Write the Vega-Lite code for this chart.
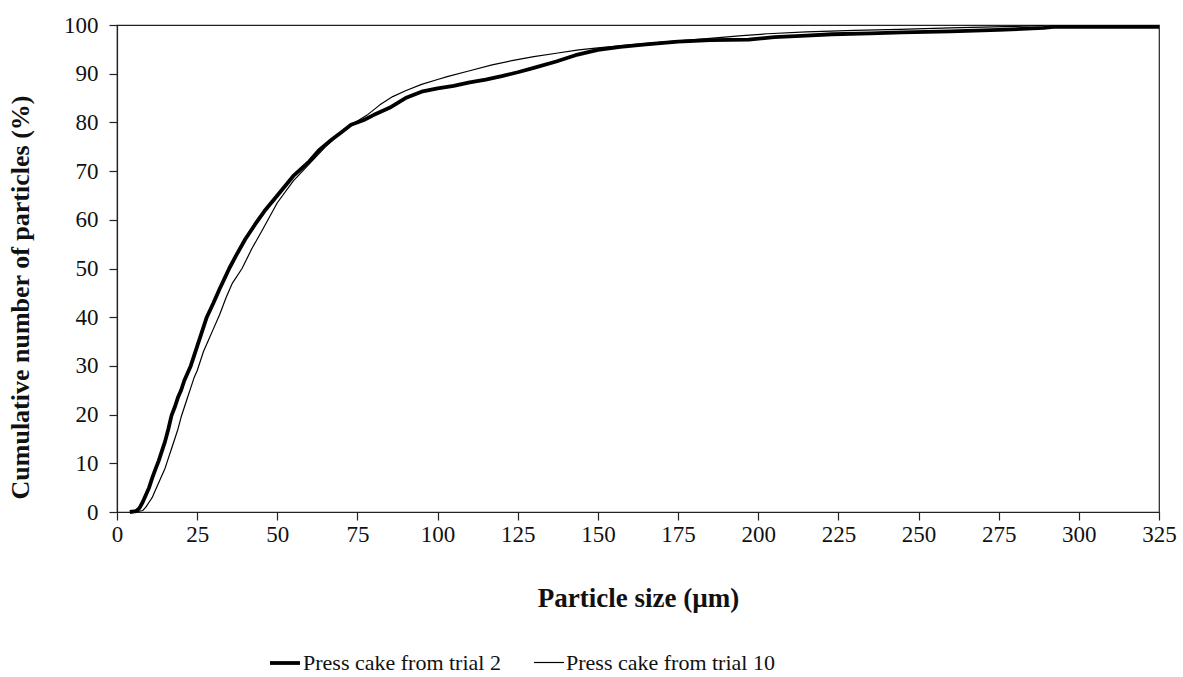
{
  "$schema": "https://vega.github.io/schema/vega-lite/v6.json",
  "autosize": "none",
  "width": 1042,
  "height": 487,
  "padding": {"left": 117, "top": 25, "right": 24, "bottom": 165},
  "background": "white",
  "config": {
    "font": "Liberation Serif",
    "view": {"stroke": "#222", "strokeWidth": 1.2}
  },
  "datasets": {
    "curves": [
      {"series": "Press cake from trial 2", "size": 4, "cum": 0},
      {"series": "Press cake from trial 2", "size": 6, "cum": 0.2},
      {"series": "Press cake from trial 2", "size": 7, "cum": 0.8},
      {"series": "Press cake from trial 2", "size": 8, "cum": 2},
      {"series": "Press cake from trial 2", "size": 9, "cum": 3.5},
      {"series": "Press cake from trial 2", "size": 10, "cum": 5},
      {"series": "Press cake from trial 2", "size": 11, "cum": 7},
      {"series": "Press cake from trial 2", "size": 12, "cum": 8.8},
      {"series": "Press cake from trial 2", "size": 13, "cum": 10.5},
      {"series": "Press cake from trial 2", "size": 14, "cum": 12.5},
      {"series": "Press cake from trial 2", "size": 15, "cum": 14.5},
      {"series": "Press cake from trial 2", "size": 16, "cum": 17},
      {"series": "Press cake from trial 2", "size": 17, "cum": 19.8},
      {"series": "Press cake from trial 2", "size": 18, "cum": 21.5},
      {"series": "Press cake from trial 2", "size": 19, "cum": 23.5},
      {"series": "Press cake from trial 2", "size": 20, "cum": 25},
      {"series": "Press cake from trial 2", "size": 21, "cum": 27},
      {"series": "Press cake from trial 2", "size": 22, "cum": 28.5},
      {"series": "Press cake from trial 2", "size": 23, "cum": 30},
      {"series": "Press cake from trial 2", "size": 24, "cum": 32},
      {"series": "Press cake from trial 2", "size": 25, "cum": 34},
      {"series": "Press cake from trial 2", "size": 26, "cum": 36},
      {"series": "Press cake from trial 2", "size": 27, "cum": 38},
      {"series": "Press cake from trial 2", "size": 28, "cum": 40},
      {"series": "Press cake from trial 2", "size": 30, "cum": 42.8},
      {"series": "Press cake from trial 2", "size": 32, "cum": 45.8},
      {"series": "Press cake from trial 2", "size": 34, "cum": 48.6},
      {"series": "Press cake from trial 2", "size": 35, "cum": 50},
      {"series": "Press cake from trial 2", "size": 37, "cum": 52.5},
      {"series": "Press cake from trial 2", "size": 40, "cum": 56},
      {"series": "Press cake from trial 2", "size": 43, "cum": 59},
      {"series": "Press cake from trial 2", "size": 46, "cum": 61.8},
      {"series": "Press cake from trial 2", "size": 50, "cum": 65},
      {"series": "Press cake from trial 2", "size": 55, "cum": 69},
      {"series": "Press cake from trial 2", "size": 60, "cum": 72},
      {"series": "Press cake from trial 2", "size": 63, "cum": 74.3},
      {"series": "Press cake from trial 2", "size": 67, "cum": 76.5},
      {"series": "Press cake from trial 2", "size": 70, "cum": 78},
      {"series": "Press cake from trial 2", "size": 73, "cum": 79.5},
      {"series": "Press cake from trial 2", "size": 77, "cum": 80.5},
      {"series": "Press cake from trial 2", "size": 80, "cum": 81.5},
      {"series": "Press cake from trial 2", "size": 85, "cum": 83},
      {"series": "Press cake from trial 2", "size": 90, "cum": 85},
      {"series": "Press cake from trial 2", "size": 95, "cum": 86.3},
      {"series": "Press cake from trial 2", "size": 100, "cum": 87},
      {"series": "Press cake from trial 2", "size": 105, "cum": 87.5},
      {"series": "Press cake from trial 2", "size": 110, "cum": 88.2},
      {"series": "Press cake from trial 2", "size": 115, "cum": 88.8},
      {"series": "Press cake from trial 2", "size": 120, "cum": 89.5},
      {"series": "Press cake from trial 2", "size": 125, "cum": 90.3},
      {"series": "Press cake from trial 2", "size": 130, "cum": 91.2},
      {"series": "Press cake from trial 2", "size": 137, "cum": 92.5},
      {"series": "Press cake from trial 2", "size": 143, "cum": 93.8},
      {"series": "Press cake from trial 2", "size": 150, "cum": 94.9},
      {"series": "Press cake from trial 2", "size": 157, "cum": 95.5},
      {"series": "Press cake from trial 2", "size": 165, "cum": 96},
      {"series": "Press cake from trial 2", "size": 175, "cum": 96.6},
      {"series": "Press cake from trial 2", "size": 185, "cum": 96.9},
      {"series": "Press cake from trial 2", "size": 197, "cum": 97},
      {"series": "Press cake from trial 2", "size": 205, "cum": 97.5},
      {"series": "Press cake from trial 2", "size": 215, "cum": 97.8},
      {"series": "Press cake from trial 2", "size": 223, "cum": 98.1},
      {"series": "Press cake from trial 2", "size": 235, "cum": 98.3},
      {"series": "Press cake from trial 2", "size": 245, "cum": 98.5},
      {"series": "Press cake from trial 2", "size": 260, "cum": 98.7},
      {"series": "Press cake from trial 2", "size": 275, "cum": 99},
      {"series": "Press cake from trial 2", "size": 289, "cum": 99.4},
      {"series": "Press cake from trial 2", "size": 292, "cum": 99.6},
      {"series": "Press cake from trial 2", "size": 325, "cum": 99.6},
      {"series": "Press cake from trial 10", "size": 6, "cum": 0},
      {"series": "Press cake from trial 10", "size": 8, "cum": 0.3},
      {"series": "Press cake from trial 10", "size": 9, "cum": 1},
      {"series": "Press cake from trial 10", "size": 10, "cum": 2},
      {"series": "Press cake from trial 10", "size": 11, "cum": 3},
      {"series": "Press cake from trial 10", "size": 12, "cum": 4.5},
      {"series": "Press cake from trial 10", "size": 13, "cum": 6},
      {"series": "Press cake from trial 10", "size": 14, "cum": 7.5},
      {"series": "Press cake from trial 10", "size": 15, "cum": 9},
      {"series": "Press cake from trial 10", "size": 16, "cum": 11},
      {"series": "Press cake from trial 10", "size": 17, "cum": 13},
      {"series": "Press cake from trial 10", "size": 18, "cum": 15},
      {"series": "Press cake from trial 10", "size": 19, "cum": 17},
      {"series": "Press cake from trial 10", "size": 20, "cum": 19.5},
      {"series": "Press cake from trial 10", "size": 21, "cum": 21.5},
      {"series": "Press cake from trial 10", "size": 22, "cum": 23.5},
      {"series": "Press cake from trial 10", "size": 23, "cum": 25.5},
      {"series": "Press cake from trial 10", "size": 24, "cum": 27.5},
      {"series": "Press cake from trial 10", "size": 25, "cum": 29},
      {"series": "Press cake from trial 10", "size": 26, "cum": 31},
      {"series": "Press cake from trial 10", "size": 27, "cum": 33},
      {"series": "Press cake from trial 10", "size": 28, "cum": 34.5},
      {"series": "Press cake from trial 10", "size": 30, "cum": 37.5},
      {"series": "Press cake from trial 10", "size": 32, "cum": 40.5},
      {"series": "Press cake from trial 10", "size": 34, "cum": 44},
      {"series": "Press cake from trial 10", "size": 36, "cum": 47},
      {"series": "Press cake from trial 10", "size": 39, "cum": 50},
      {"series": "Press cake from trial 10", "size": 42, "cum": 54},
      {"series": "Press cake from trial 10", "size": 45, "cum": 57.5},
      {"series": "Press cake from trial 10", "size": 50, "cum": 63.5},
      {"series": "Press cake from trial 10", "size": 55, "cum": 68},
      {"series": "Press cake from trial 10", "size": 60, "cum": 71.5},
      {"series": "Press cake from trial 10", "size": 65, "cum": 75},
      {"series": "Press cake from trial 10", "size": 70, "cum": 78},
      {"series": "Press cake from trial 10", "size": 75, "cum": 80.3},
      {"series": "Press cake from trial 10", "size": 78, "cum": 81.5},
      {"series": "Press cake from trial 10", "size": 82, "cum": 83.6},
      {"series": "Press cake from trial 10", "size": 86, "cum": 85.3},
      {"series": "Press cake from trial 10", "size": 90, "cum": 86.5},
      {"series": "Press cake from trial 10", "size": 95, "cum": 87.8},
      {"series": "Press cake from trial 10", "size": 100, "cum": 88.8},
      {"series": "Press cake from trial 10", "size": 103, "cum": 89.4},
      {"series": "Press cake from trial 10", "size": 110, "cum": 90.6},
      {"series": "Press cake from trial 10", "size": 117, "cum": 91.8},
      {"series": "Press cake from trial 10", "size": 124, "cum": 92.8},
      {"series": "Press cake from trial 10", "size": 130, "cum": 93.5},
      {"series": "Press cake from trial 10", "size": 137, "cum": 94.2},
      {"series": "Press cake from trial 10", "size": 144, "cum": 94.9},
      {"series": "Press cake from trial 10", "size": 150, "cum": 95.3},
      {"series": "Press cake from trial 10", "size": 160, "cum": 95.9},
      {"series": "Press cake from trial 10", "size": 170, "cum": 96.5},
      {"series": "Press cake from trial 10", "size": 184, "cum": 97.2},
      {"series": "Press cake from trial 10", "size": 195, "cum": 97.8},
      {"series": "Press cake from trial 10", "size": 203, "cum": 98.2},
      {"series": "Press cake from trial 10", "size": 215, "cum": 98.6},
      {"series": "Press cake from trial 10", "size": 230, "cum": 98.9},
      {"series": "Press cake from trial 10", "size": 244, "cum": 99.1},
      {"series": "Press cake from trial 10", "size": 260, "cum": 99.4},
      {"series": "Press cake from trial 10", "size": 280, "cum": 99.7},
      {"series": "Press cake from trial 10", "size": 289, "cum": 99.9}
    ]
  },
  "data": {"name": "curves"},
  "mark": {"type": "line", "color": "black", "interpolate": "linear", "strokeJoin": "round"},
  "encoding": {
    "x": {
      "field": "size", "type": "quantitative",
      "scale": {"domain": [0, 325], "nice": false, "zero": false},
      "axis": {
        "title": "Particle size (µm)",
        "values": [0, 25, 50, 75, 100, 125, 150, 175, 200, 225, 250, 275, 300, 325],
        "grid": false, "domainColor": "#222", "domainWidth": 1.2,
        "tickColor": "#222", "tickSize": 8, "tickWidth": 1.2,
        "labelFont": "Liberation Serif", "labelFontSize": 23, "labelColor": "#111",
        "labelPadding": 3, "labelFlush": false,
        "titleFont": "Liberation Serif", "titleFontSize": 27, "titleFontWeight": "bold",
        "titleColor": "#111", "titlePadding": 39
      }
    },
    "y": {
      "field": "cum", "type": "quantitative",
      "scale": {"domain": [0, 100], "nice": false},
      "axis": {
        "title": "Cumulative number of particles (%)",
        "values": [0, 10, 20, 30, 40, 50, 60, 70, 80, 90, 100],
        "grid": false, "domainColor": "#222", "domainWidth": 1.2,
        "tickColor": "#222", "tickSize": 8, "tickWidth": 1.2,
        "labelFont": "Liberation Serif", "labelFontSize": 23, "labelColor": "#111",
        "labelPadding": 11, "labelFlush": false,
        "titleFont": "Liberation Serif", "titleFontSize": 26, "titleFontWeight": "bold",
        "titleColor": "#111", "titlePadding": 30, "titleY": 272
      }
    },
    "strokeWidth": {
      "field": "series", "type": "nominal",
      "scale": {"domain": ["Press cake from trial 2", "Press cake from trial 10"], "range": [3.8, 1.2]},
      "legend": {
        "title": null, "orient": "none", "direction": "horizontal",
        "legendX": 151, "legendY": 621,
        "symbolType": "stroke", "symbolSize": 900, "symbolStrokeColor": "black",
        "labelFont": "Liberation Serif", "labelFontSize": 22, "labelColor": "#111",
        "labelLimit": 400, "labelOffset": 1, "columnPadding": 30
      }
    }
  }
}
